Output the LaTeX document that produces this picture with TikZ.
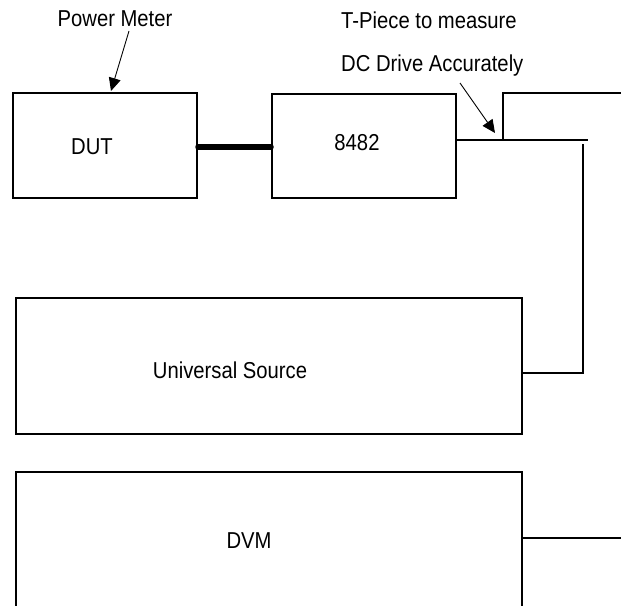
\documentclass[tikz,border=0pt]{standalone}
\usepackage{fontspec}
\setmainfont{Liberation Sans}[FakeStretch=0.88]
\usetikzlibrary{arrows.meta, positioning, calc}

\begin{document}
\begin{tikzpicture}[
                x=1pt, y=-1pt,
                caja/.style={
                    rectangle,
                    draw=black,
                    line width=2pt,
                    inner sep=0pt
                },
                etiqueta/.style={
                    font=\fontsize{23}{27}\selectfont,
                    inner sep=0pt
                },
                cable/.style={line width=2pt},
                flecha/.style={line width=0.9pt, -{Triangle[length=13pt, width=12pt]}}
            ]
                \clip (0,0) rectangle (621,605);
                % equipos
                \node[caja, minimum width=184pt, minimum height=105pt,
                      label={[etiqueta, xshift=-13pt, yshift=-1pt]center:DUT}] (dut) at (105,145.5) {};
                \node[caja, minimum width=184pt, minimum height=104pt,
                      label={[etiqueta, xshift=-7pt, yshift=3pt]center:8482}] (sensor) at (364,146) {};
                \node[caja, minimum width=506pt, minimum height=136pt,
                      label={[etiqueta, xshift=-39pt, yshift=-4pt]center:Universal Source}] (fuente) at (269,366) {};
                \node[caja, minimum width=506pt, minimum height=138pt,
                      label={[etiqueta, xshift=-20pt]center:DVM}] (dvm) at (269,541) {};
                % textos
                \node[etiqueta, anchor=base] (pm) at (115,26) {Power Meter};
                \node[etiqueta, anchor=base west] (tpieza) at (341,28) {T-Piece to measure};
                \node[etiqueta, anchor=base west] (dcdrive) at (341,71) {DC Drive Accurately};
                % puntos de cableado
                \coordinate (tnodo) at (503,140);
                \coordinate (tfin) at (588,140);
                \coordinate (tarriba) at (621,93);
                \coordinate (bajada) at (583,144);
                \coordinate (fsal) at (522,373);
                \coordinate (dvmfin) at (621,538);
                \coordinate (pmini) at (129,31);
                \coordinate (pmpunta) at (111,91);
                \coordinate (tini) at (460,83);
                \coordinate (tpunta) at (495,133);
                % cables
                \draw[line width=5.5pt, line cap=round] (dut.east |- 0,147) -- (sensor.west |- 0,147);
                \draw[cable] (sensor.east |- tnodo) -- (tfin);
                \draw[cable] (tnodo) |- (tarriba);
                \draw[cable] (bajada) |- (fsal);
                \draw[cable] (dvm.east |- dvmfin) -- (dvmfin);
                % flechas
                \draw[flecha] (pmini) -- (pmpunta);
                \draw[flecha] (tini) -- (tpunta);
            \end{tikzpicture}
\end{document}
